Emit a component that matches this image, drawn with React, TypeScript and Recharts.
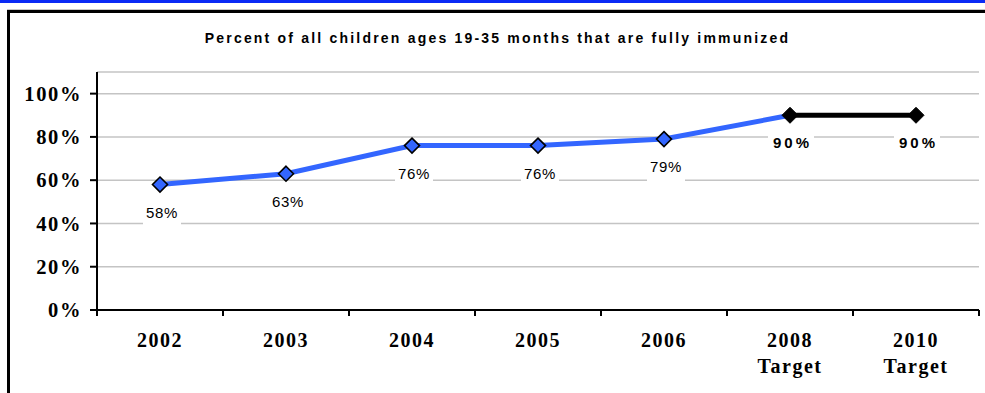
import React from 'react';
import { LineChart, Line, XAxis, YAxis, CartesianGrid, LabelList } from 'recharts';

const categories = ['2002', '2003', '2004', '2005', '2006', '2008', '2010'];
const categorySubLabels = ['', '', '', '', '', 'Target', 'Target'];
const actualValues: (number | null)[] = [58, 63, 76, 76, 79, 90, null];
const targetValues: (number | null)[] = [null, null, null, null, null, 90, 90];
const yTicks = [0, 20, 40, 60, 80, 100];
const title = 'Percent of all children ages 19-35 months that are fully immunized';

const data = categories.map((c, i) => ({
  name: c,
  actual: actualValues[i],
  target: targetValues[i],
}));

const W = 985;
const H = 393;
const margin = { top: 72, right: 6, bottom: 0, left: 0 };
const yAxisWidth = 97;
const xAxisHeight = 83;
const bandHalf = (W - margin.right - yAxisWidth) / categories.length / 2;
const TICK_SIZE = 6;
const TICK_MARGIN = 4;

const diamond = (cx: number, cy: number, r: number) =>
  `M${cx},${cy - r} L${cx + r},${cy} L${cx},${cy + r} L${cx - r},${cy} Z`;

const BlueDot = (props: any) => {
  const { cx, cy, index } = props;
  if (cx == null || cy == null || targetValues[index] != null) return <g key={`bd${index}`} />;
  return <path key={`bd${index}`} d={diamond(cx, cy, 7.5)} fill="#3366FF" stroke="#000" strokeWidth={1.6} />;
};

const BlackDot = (props: any) => {
  const { cx, cy, index } = props;
  if (cx == null || cy == null) return <g key={`kd${index}`} />;
  return <path key={`kd${index}`} d={diamond(cx, cy, 8)} fill="#000" stroke="#000" strokeWidth={1} />;
};

const ActualLabel = (props: any) => {
  const { x, y, value, index } = props;
  if (value == null || targetValues[index] != null) return null;
  const cx = x + 2;
  const cy = y + 28;
  return (
    <g>
      <rect x={cx - 19} y={cy - 11} width={38} height={25} fill="#fff" />
      <text x={cx} y={cy + 5} textAnchor="middle" fontFamily="Arial, 'Liberation Sans', sans-serif" fontSize={15} letterSpacing={0.6} fill="#000">
        {`${value}%`}
      </text>
    </g>
  );
};

const TargetLabel = (props: any) => {
  const { x, y, value } = props;
  if (value == null) return null;
  const cx = x + 1;
  const cy = y + 27;
  return (
    <g>
      <rect x={cx - 23} y={cy - 11} width={46} height={25} fill="#fff" />
      <text x={cx + 1.5} y={cy + 5.5} textAnchor="middle" fontFamily="Arial, 'Liberation Sans', sans-serif" fontWeight="bold" fontSize={15} letterSpacing={3} fill="#000">
        {`${value}%`}
      </text>
    </g>
  );
};

const XTick = (props: any) => {
  const { x, y, payload, index } = props;
  const i = payload?.index ?? index;
  const off = bandHalf;
  const axisY = y - TICK_SIZE - TICK_MARGIN;
  const sub = categorySubLabels[i];
  return (
    <g>
      <line x1={x - off} x2={x - off} y1={axisY} y2={axisY + TICK_SIZE} stroke="#000" strokeWidth={2} />
      {i === categories.length - 1 && (
        <line x1={x + off} x2={x + off} y1={axisY} y2={axisY + TICK_SIZE} stroke="#000" strokeWidth={2} />
      )}
      <text x={x} y={axisY + 37} textAnchor="middle" fontFamily="'Times New Roman', 'Liberation Serif', serif" fontWeight="bold" fontSize={20} letterSpacing={1.5} fill="#000">
        {payload.value}
      </text>
      {sub && (
        <text x={x} y={axisY + 63} textAnchor="middle" fontFamily="'Times New Roman', 'Liberation Serif', serif" fontWeight="bold" fontSize={20} letterSpacing={1.5} fill="#000">
          {sub}
        </text>
      )}
    </g>
  );
};

export default function App() {
  return (
    <div style={{ position: 'absolute', left: 0, top: 0, width: W, height: H, background: '#fff', overflow: 'hidden' }}>
      <div style={{ position: 'absolute', left: 0, top: 0, width: W, height: 2.5, background: '#0a2af5' }} />
      <div style={{ position: 'absolute', left: 7, top: 9, width: W, height: 1, background: '#c8c8c8' }} />
      <div style={{ position: 'absolute', left: 7, top: 10, width: W, height: 2.7, background: '#000' }} />
      <div style={{ position: 'absolute', left: 7, top: 10, width: 2.7, height: H, background: '#000' }} />
      <div
        style={{
          position: 'absolute',
          left: 5,
          top: 30,
          width: W,
          textAlign: 'center',
          fontFamily: "Arial, 'Liberation Sans', sans-serif",
          fontWeight: 'bold',
          fontSize: 14,
          letterSpacing: 2.2,
          lineHeight: '16px',
          color: '#000',
        }}
      >
        {title}
      </div>
      <div style={{ position: 'absolute', left: 0, top: 0 }}>
        <LineChart width={W} height={H} data={data} margin={margin}>
          <CartesianGrid vertical={false} stroke="#c4c4c4" strokeWidth={1.5} />
          <XAxis
            dataKey="name"
            interval={0}
            height={xAxisHeight}
            padding={{ left: bandHalf, right: bandHalf }}
            axisLine={{ stroke: '#000', strokeWidth: 2 }}
            tickLine={false}
            tickSize={TICK_SIZE}
            tickMargin={TICK_MARGIN}
            tick={<XTick />}
          />
          <YAxis
            width={yAxisWidth}
            domain={[0, 110]}
            ticks={yTicks}
            interval={0}
            tickFormatter={(v: number) => `${v}%`}
            axisLine={{ stroke: '#000', strokeWidth: 2 }}
            tickLine={{ stroke: '#000', strokeWidth: 2 }}
            tickSize={7}
            tickMargin={8}
            tick={{ fill: '#000', fontFamily: "'Times New Roman', 'Liberation Serif', serif", fontWeight: 'bold', fontSize: 20.5, letterSpacing: 1.6 }}
          />
          <Line
            type="linear"
            dataKey="actual"
            stroke="#3366FF"
            strokeWidth={5}
            dot={<BlueDot />}
            activeDot={false}
            isAnimationActive={false}
          >
            <LabelList dataKey="actual" content={<ActualLabel />} />
          </Line>
          <Line
            type="linear"
            dataKey="target"
            stroke="#000"
            strokeWidth={5}
            dot={<BlackDot />}
            activeDot={false}
            isAnimationActive={false}
          >
            <LabelList dataKey="target" content={<TargetLabel />} />
          </Line>
        </LineChart>
      </div>
    </div>
  );
}
